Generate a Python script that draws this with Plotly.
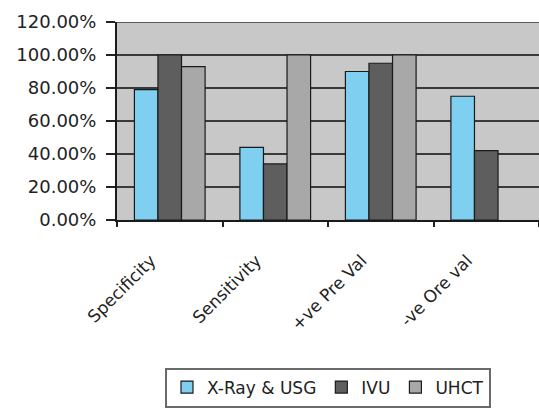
import plotly.graph_objects as go

categories = ["Specificity", "Sensitivity", "+ve Pre Val", "-ve Ore val"]
xray_usg = [0.79, 0.44, 0.90, 0.75]
ivu = [1.00, 0.34, 0.95, 0.42]
uhct = [0.93, 1.00, 1.00, None]

series_names = ["X-Ray & USG", "IVU", "UHCT"]
series_colors = ["#7ecff0", "#5e5e5e", "#a8a8a8"]

FONT = "DejaVu Sans"
TXT = "#222222"

fig = go.Figure()
for name, vals, col in zip(series_names, [xray_usg, ivu, uhct], series_colors):
    fig.add_trace(go.Bar(
        x=categories, y=vals, name=name,
        marker=dict(color=col, line=dict(color="#1a1a1a", width=1.2)),
    ))

# top gridline at 120%
fig.add_shape(type="line", xref="paper", yref="y", x0=0, x1=1, y0=1.2, y1=1.2,
              line=dict(color="#5a5a5a", width=2), layer="below")

fig.update_layout(
    width=539, height=410,
    margin=dict(l=117, r=0, t=22, b=190),
    paper_bgcolor="white",
    plot_bgcolor="#c8c8c8",
    barmode="group",
    bargap=0.33,
    bargroupgap=0.0,
    font=dict(family=FONT, size=16, color=TXT),
    showlegend=True,
    legend=dict(
        orientation="h",
        x=0.5, xanchor="center",
        y=-0.745, yanchor="top",
        bordercolor="#6a6a6a", borderwidth=2,
        bgcolor="white",
        font=dict(family=FONT, size=17, color=TXT),
        itemwidth=30,
    ),
    xaxis=dict(
        type="category",
        tickangle=-45,
        tickson="boundaries",
        ticks="outside", ticklen=5, tickcolor="#222", tickwidth=1.5,
        ticklabelstandoff=22,
        ticklabelshift=-19,
        showline=True, linecolor="#1a1a1a", linewidth=2,
        showgrid=False,
        tickfont=dict(family=FONT, size=17, color=TXT),
    ),
    yaxis=dict(
        range=[0, 1.2],
        dtick=0.2,
        tickformat=".2%",
        ticks="outside", ticklen=9, tickcolor="#222", tickwidth=1.5,
        ticklabelstandoff=6,
        showline=True, linecolor="#1a1a1a", linewidth=2,
        showgrid=True, gridcolor="#3a3a3a", gridwidth=2,
        zeroline=False,
        tickfont=dict(family=FONT, size=18, color=TXT),
    ),
)

fig.write_html("out.html")
